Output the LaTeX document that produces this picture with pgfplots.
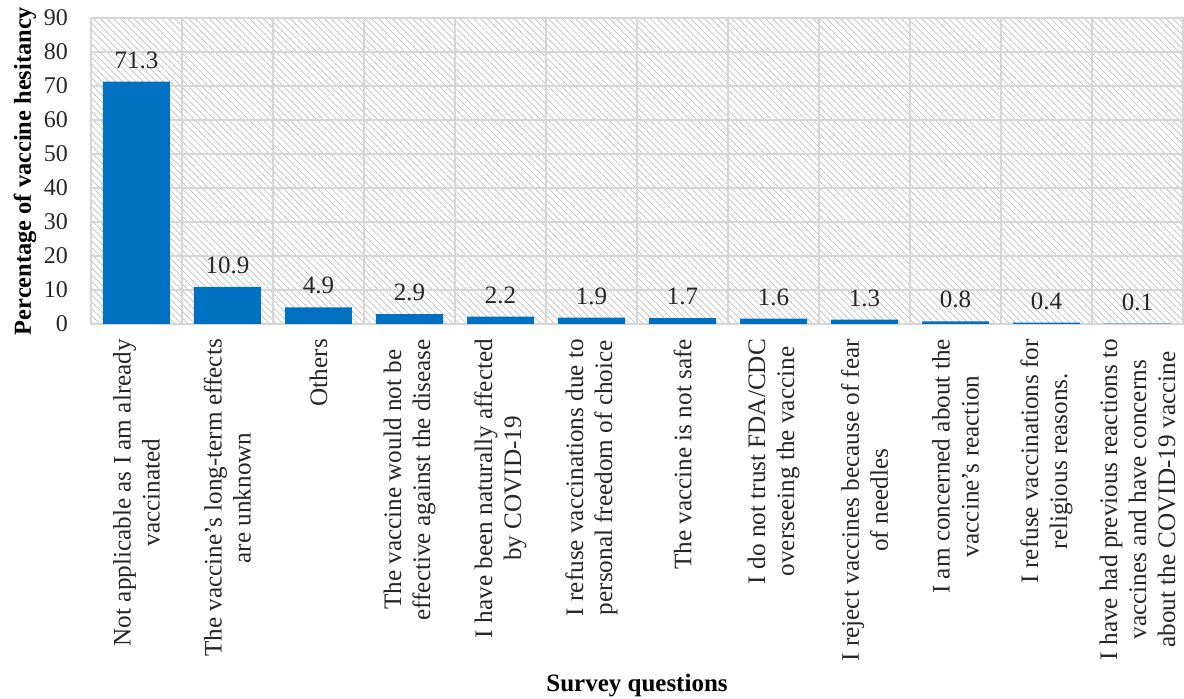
\documentclass[border=0pt]{standalone}
\usepackage{fontspec}
\setmainfont{Liberation Serif}
\usepackage{pgfplots}
\pgfplotsset{compat=1.18}
\usetikzlibrary{patterns.meta}
\definecolor{barblue}{RGB}{0,112,192}
\definecolor{gridgray}{RGB}{214,214,214}
\begin{document}
\begin{tikzpicture}
\begin{axis}[
  at={(0,0)}, anchor=south west,
  scale only axis, width=546pt, height=153pt,
  xmin=-0.5, xmax=11.5, ymin=0, ymax=90,
  ytick={0,10,...,90},
  xtick={0,...,11},
  xticklabels={
    {Not applicable as I am already\\vaccinated},
    {The vaccine's long-term effects\\are unknown},
    {Others},
    {The vaccine would not be\\effective against the disease},
    {I have been naturally affected\\by COVID-19},
    {I refuse vaccinations due to\\personal freedom of choice},
    {The vaccine is not safe},
    {I do not trust FDA/CDC\\overseeing the vaccine},
    {I reject vaccines because of fear\\of needles},
    {I am concerned about the\\vaccine's reaction},
    {I refuse vaccinations for\\religious reasons.},
    {I have had previous reactions to\\vaccines and have concerns\\about the COVID-19 vaccine}},
  minor xtick={0.5,1.5,...,10.5},
  xminorgrids, ymajorgrids,
  major tick length=0pt, minor tick length=0pt,
  axis line style={gridgray, line width=0.8pt},
  grid style={gridgray, line width=0.8pt},
  minor grid style={gridgray, line width=0.8pt},
  axis background/.style={pattern={Lines[angle=-45, distance=2.4pt, line width=0.35pt]}, pattern color=black!25},
  /pgf/number format/assume math mode=true,
  yticklabel style={font=\fontsize{12}{14}\selectfont, text=black!85, xshift=-8pt},
  xticklabel style={font=\fontsize{12.6}{14.5}\selectfont, text=black!85, rotate=90, anchor=east, align=center, xshift=-4pt},
  every axis y label/.style={at={(axis description cs:0,0.5)}, xshift=-33pt, rotate=90, anchor=center, font=\fontsize{12.2}{14}\selectfont\bfseries},
  every axis x label/.style={at={(axis description cs:0.5,0)}, yshift=-181pt, anchor=center, font=\fontsize{12.5}{14}\selectfont\bfseries},
  ylabel={Percentage of vaccine hesitancy},
  xlabel={Survey questions},
  ybar, bar width=33.5pt,
  nodes near coords,
  every node near coord/.append style={font=\fontsize{12.5}{14}\selectfont, text=black!85, /pgf/number format/fixed, /pgf/number format/fixed zerofill, /pgf/number format/precision=1, /pgf/number format/assume math mode=true, yshift=3pt},
]
\addplot[fill=barblue, draw=none] coordinates {
 (0,71.3) (1,10.9) (2,4.9) (3,2.9) (4,2.2) (5,1.9)
 (6,1.7) (7,1.6) (8,1.3) (9,0.8) (10,0.4) (11,0.1)};
\end{axis}
\pgfresetboundingbox
\path[use as bounding box] (-45.5pt,-187.5pt) rectangle (546.5pt,162pt);
\end{tikzpicture}
\end{document}
